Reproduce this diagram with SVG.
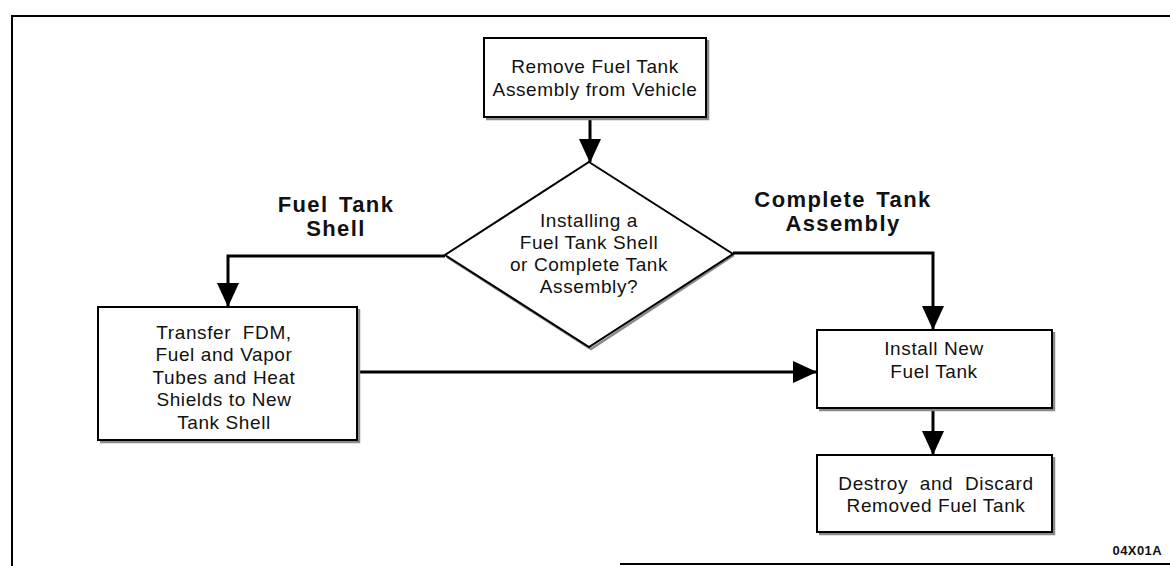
<svg xmlns="http://www.w3.org/2000/svg" width="1170" height="566" viewBox="0 0 1170 566">
<style>
.box{fill:#fff;stroke:#000;stroke-width:2}
.shadow{fill:none;stroke:#8a8a8a;stroke-width:2.5}
.t{font-family:"Liberation Sans",Arial,sans-serif;font-size:19px;letter-spacing:0.6px;text-anchor:middle;fill:#111}
.lbl{font-family:"Liberation Sans",Arial,sans-serif;font-size:22px;font-weight:bold;letter-spacing:1.4px;word-spacing:3px;text-anchor:middle;fill:#111}
.code{font-family:"Liberation Sans",Arial,sans-serif;font-size:13px;font-weight:bold;letter-spacing:0.4px;text-anchor:end;fill:#111}
.conn{fill:none;stroke:#000;stroke-width:3;marker-end:url(#ah)}
.frame{fill:none;stroke:#000;stroke-width:2}
</style>
<defs>
<marker id="ah" markerUnits="userSpaceOnUse" markerWidth="24" markerHeight="22" refX="23" refY="11" orient="auto">
<path d="M0,0 L24,11 L0,22 Z" fill="#000"/>
</marker>
</defs>
<rect width="1170" height="566" fill="#fff"/>
<polyline class="frame" points="12,566 12,16 1170,16"/>
<line class="frame" x1="620" y1="564" x2="1170" y2="564"/>

<g id="connectors">
<line class="conn" x1="590" y1="118" x2="590" y2="162"/>
<polyline class="conn" points="445,256 228,256 228,306"/>
<polyline class="conn" points="733,253 933,253 933,329"/>
<line class="conn" x1="358" y1="372" x2="816" y2="372"/>
<line class="conn" x1="933" y1="409" x2="933" y2="454"/>
</g>

<g id="node-remove">
<polyline class="shadow" points="708,40 708,119 486,119"/>
<rect class="box" x="484" y="38" width="222" height="79"/>
<text class="t" x="595" y="73">Remove Fuel Tank</text>
<text class="t" x="595" y="96">Assembly from Vehicle</text>
</g>

<g id="node-decision">
<polyline class="shadow" points="734,255 591,349 447,257"/>
<polygon class="box" points="589,162 733,254 589,347 445,255"/>
<text class="t" x="589" y="227">Installing a</text>
<text class="t" x="589" y="249">Fuel Tank Shell</text>
<text class="t" x="589" y="271">or Complete Tank</text>
<text class="t" x="589" y="293">Assembly?</text>
</g>

<g id="label-shell">
<text class="lbl" x="336" y="212">Fuel  Tank</text>
<text class="lbl" x="336" y="236">Shell</text>
</g>

<g id="label-complete">
<text class="lbl" x="843" y="207">Complete  Tank</text>
<text class="lbl" x="843" y="231">Assembly</text>
</g>

<g id="node-transfer">
<polyline class="shadow" points="359,309 359,442 100,442"/>
<rect class="box" x="98" y="307" width="259" height="133"/>
<text class="t" x="224" y="339" xml:space="preserve">Transfer  FDM,</text>
<text class="t" x="224" y="361">Fuel and Vapor</text>
<text class="t" x="224" y="384">Tubes and Heat</text>
<text class="t" x="224" y="406">Shields to New</text>
<text class="t" x="224" y="429">Tank Shell</text>
</g>

<g id="node-install">
<polyline class="shadow" points="1054,332 1054,410 819,410"/>
<rect class="box" x="817" y="330" width="235" height="78"/>
<text class="t" x="934" y="355">Install New</text>
<text class="t" x="934" y="378">Fuel Tank</text>
</g>

<g id="node-destroy">
<polyline class="shadow" points="1054,457 1054,534 819,534"/>
<rect class="box" x="817" y="455" width="235" height="77"/>
<text class="t" x="936" y="490" xml:space="preserve">Destroy  and  Discard</text>
<text class="t" x="936" y="512">Removed Fuel Tank</text>
</g>

<text class="code" x="1162" y="555">04X01A</text>
</svg>
